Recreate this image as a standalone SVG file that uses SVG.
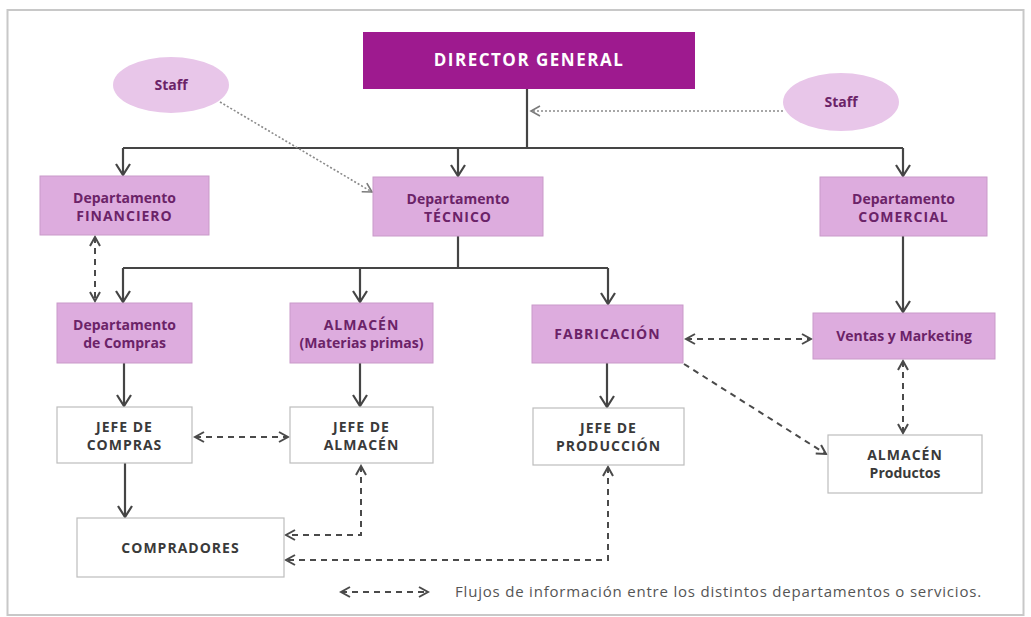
<svg xmlns="http://www.w3.org/2000/svg" width="1031" height="617" viewBox="0 0 1031 617">
<style>
.pink{fill:#ddacde;stroke:#c99ac9;stroke-width:1}
.white{fill:#ffffff;stroke:#bdbdbd;stroke-width:1.2}
.ell{fill:#e8c6e9}
.pt{font-family:"Open Sans","Liberation Sans",sans-serif;font-weight:bold;font-size:14px;fill:#6b2368;text-anchor:middle}
.wt{font-family:"Open Sans","Liberation Sans",sans-serif;font-weight:bold;font-size:14px;fill:#3a3a3a;text-anchor:middle}
.up{letter-spacing:1px}
.solid{fill:none;stroke:#454545;stroke-width:2.2}
.dash{fill:none;stroke:#4a4a4a;stroke-width:2;stroke-dasharray:6 5}
.dot{fill:none;stroke:#8a8a8a;stroke-width:1.6;stroke-dasharray:2 2}
</style>
<defs>
<marker id="ah" viewBox="-12 -8 14 16" markerWidth="14" markerHeight="16" refX="0" refY="0" orient="auto" markerUnits="userSpaceOnUse">
<path d="M-11,-7 L0,0 L-11,7" fill="none" stroke="#454545" stroke-width="2.2"/>
</marker>
<marker id="dh" viewBox="-11 -7 13 14" markerWidth="13" markerHeight="14" refX="0" refY="0" orient="auto-start-reverse" markerUnits="userSpaceOnUse">
<path d="M-9,-5 L0,0 L-9,5" fill="none" stroke="#4a4a4a" stroke-width="2"/>
</marker>
<marker id="th" viewBox="-11 -7 13 14" markerWidth="13" markerHeight="14" refX="0" refY="0" orient="auto" markerUnits="userSpaceOnUse">
<path d="M-9,-5 L0,0 L-9,5" fill="none" stroke="#7a7a7a" stroke-width="1.6"/>
</marker>
</defs>
<rect x="0" y="0" width="1031" height="617" fill="#ffffff"/>
<rect x="7.5" y="10" width="1016" height="605" fill="none" stroke="#c8c8c8" stroke-width="2"/>

<g id="connectors">
<path class="solid" d="M527,89 V148"/>
<path class="solid" d="M123,148 H903"/>
<path class="solid" d="M123,148 V175" marker-end="url(#ah)"/>
<path class="solid" d="M458,148 V176" marker-end="url(#ah)"/>
<path class="solid" d="M903,148 V176" marker-end="url(#ah)"/>
<path class="dot" d="M783,111 H531" marker-end="url(#th)"/>
<path class="dot" d="M220,102 L372,192" marker-end="url(#th)"/>
<path class="solid" d="M458,236 V268"/>
<path class="solid" d="M123,268 H608"/>
<path class="solid" d="M123,268 V302" marker-end="url(#ah)"/>
<path class="solid" d="M360,268 V302" marker-end="url(#ah)"/>
<path class="solid" d="M608,268 V304" marker-end="url(#ah)"/>
<path class="solid" d="M903,236 V312" marker-end="url(#ah)"/>
<path class="solid" d="M124,363 V406" marker-end="url(#ah)"/>
<path class="solid" d="M360,363 V406" marker-end="url(#ah)"/>
<path class="solid" d="M607,363 V407" marker-end="url(#ah)"/>
<path class="solid" d="M125,463 V517" marker-end="url(#ah)"/>
<path class="dash" d="M95,237 V301" marker-start="url(#dh)" marker-end="url(#dh)"/>
<path class="dash" d="M195,437 H288" marker-start="url(#dh)" marker-end="url(#dh)"/>
<path class="dash" d="M686,339 H811" marker-start="url(#dh)" marker-end="url(#dh)"/>
<path class="dash" d="M903,361 V433" marker-start="url(#dh)" marker-end="url(#dh)"/>
<path class="dash" d="M684,364 L826,454" marker-end="url(#dh)"/>
<path class="dash" d="M361,466 V535 H286" marker-start="url(#dh)" marker-end="url(#dh)"/>
<path class="dash" d="M608,467 V560 H286" marker-start="url(#dh)" marker-end="url(#dh)"/>
</g>

<g id="director">
<rect x="363" y="32" width="332" height="57" fill="#9e1a8f"/>
<text x="529" y="66" font-family="'Open Sans','Liberation Sans',sans-serif" font-weight="bold" font-size="17" letter-spacing="1.5" fill="#ffffff" text-anchor="middle">DIRECTOR GENERAL</text>
</g>
<g id="staff-left">
<ellipse class="ell" cx="171" cy="85" rx="58" ry="28"/>
<text class="pt" x="171" y="90" font-size="12">Staff</text>
</g>
<g id="staff-right">
<ellipse class="ell" cx="841" cy="102" rx="58" ry="29"/>
<text class="pt" x="841" y="107" font-size="12">Staff</text>
</g>
<g id="dep-financiero">
<rect class="pink" x="40" y="176" width="169" height="59"/>
<text class="pt" x="124.5" y="203">Departamento</text>
<text class="pt up" x="124.5" y="221">FINANCIERO</text>
</g>
<g id="dep-tecnico">
<rect class="pink" x="373" y="177" width="170" height="59"/>
<text class="pt" x="458" y="204">Departamento</text>
<text class="pt up" x="458" y="222">TÉCNICO</text>
</g>
<g id="dep-comercial">
<rect class="pink" x="820" y="177" width="167" height="59"/>
<text class="pt" x="903.5" y="204">Departamento</text>
<text class="pt up" x="903.5" y="222">COMERCIAL</text>
</g>
<g id="dep-compras">
<rect class="pink" x="57" y="303" width="135" height="60"/>
<text class="pt" x="124.5" y="330">Departamento</text>
<text class="pt" x="124.5" y="348">de Compras</text>
</g>
<g id="almacen-mp">
<rect class="pink" x="290" y="303" width="143" height="60"/>
<text class="pt up" x="361.5" y="330">ALMACÉN</text>
<text class="pt" x="361.5" y="348">(Materias primas)</text>
</g>
<g id="fabricacion">
<rect class="pink" x="532" y="305" width="151" height="58"/>
<text class="pt up" x="607.5" y="339">FABRICACIÓN</text>
</g>
<g id="ventas">
<rect class="pink" x="813" y="313" width="182" height="46"/>
<text class="pt" x="904" y="341">Ventas y Marketing</text>
</g>
<g id="jefe-compras">
<rect class="white" x="57" y="407" width="135" height="56"/>
<text class="wt up" x="124.5" y="432">JEFE DE</text>
<text class="wt up" x="124.5" y="450">COMPRAS</text>
</g>
<g id="jefe-almacen">
<rect class="white" x="290" y="407" width="143" height="56"/>
<text class="wt up" x="361.5" y="432">JEFE DE</text>
<text class="wt up" x="361.5" y="450">ALMACÉN</text>
</g>
<g id="jefe-produccion">
<rect class="white" x="533" y="408" width="151" height="57"/>
<text class="wt up" x="608.5" y="433">JEFE DE</text>
<text class="wt up" x="608.5" y="451">PRODUCCIÓN</text>
</g>
<g id="almacen-productos">
<rect class="white" x="828" y="435" width="154" height="58"/>
<text class="wt up" x="905" y="460">ALMACÉN</text>
<text class="wt" x="905" y="478">Productos</text>
</g>
<g id="compradores">
<rect class="white" x="77" y="518" width="207" height="59"/>
<text class="wt up" x="180.5" y="553">COMPRADORES</text>
</g>
<g id="legend">
<path class="dash" d="M341,592 H428" stroke-dasharray="5 4" marker-start="url(#dh)" marker-end="url(#dh)"/>
<text x="455" y="597" font-family="'Open Sans','Liberation Sans',sans-serif" font-size="15" letter-spacing="0.8" fill="#555555">Flujos de información entre los distintos departamentos o servicios.</text>
</g>
</svg>
